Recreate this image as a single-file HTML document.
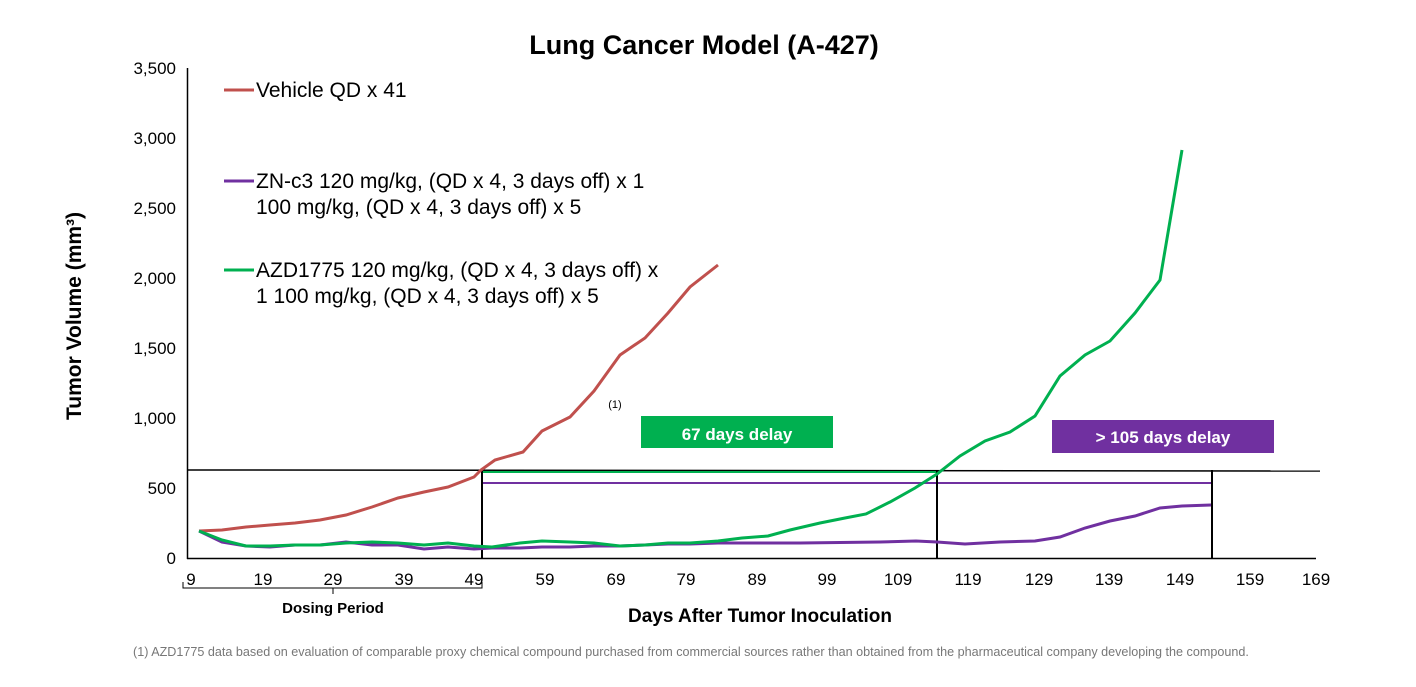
<!DOCTYPE html>
<html><head><meta charset="utf-8"><style>
body{margin:0;background:#fff;width:1416px;height:682px;overflow:hidden}
svg{font-family:"Liberation Sans",Arial,sans-serif}
</style></head><body>
<svg width="1416" height="682" viewBox="0 0 1416 682">
<text x="704" y="54" font-size="27" font-weight="bold" text-anchor="middle">Lung Cancer Model (A-427)</text>
<g font-size="17" text-anchor="end">
<text x="176" y="564">0</text><text x="176" y="494">500</text><text x="176" y="424">1,000</text>
<text x="176" y="354">1,500</text><text x="176" y="284">2,000</text><text x="176" y="214">2,500</text>
<text x="176" y="144">3,000</text><text x="176" y="74">3,500</text>
</g>
<text transform="translate(81,316) rotate(-90)" font-size="21" font-weight="bold" text-anchor="middle">Tumor Volume (mm³)</text>
<line x1="187.5" y1="68" x2="187.5" y2="559" stroke="#000" stroke-width="1.5"/>
<line x1="187" y1="558.5" x2="1316" y2="558.5" stroke="#000" stroke-width="1.5"/>
<g font-size="17" text-anchor="middle">
<text x="191" y="585">9</text><text x="263" y="585">19</text><text x="333" y="585">29</text><text x="404" y="585">39</text>
<text x="474" y="585">49</text><text x="545" y="585">59</text><text x="616" y="585">69</text><text x="686" y="585">79</text>
<text x="757" y="585">89</text><text x="827" y="585">99</text><text x="898" y="585">109</text><text x="968" y="585">119</text>
<text x="1039" y="585">129</text><text x="1109" y="585">139</text><text x="1180" y="585">149</text><text x="1250" y="585">159</text><text x="1316" y="585">169</text>
</g>
<path d="M183,582 v6 H482 v-6 M333,588 v6" fill="none" stroke="#000" stroke-width="1"/>
<text x="333" y="613" font-size="15" font-weight="bold" text-anchor="middle">Dosing Period</text>
<text x="760" y="622" font-size="19" font-weight="bold" text-anchor="middle">Days After Tumor Inoculation</text>
<text x="133" y="656" font-size="12.6" fill="#777">(1)    AZD1775 data based on evaluation of comparable proxy chemical compound purchased from commercial sources rather than obtained from the pharmaceutical company developing the compound.</text>
<line x1="187" y1="470" x2="1320" y2="471" stroke="#000" stroke-width="1.5"/>
<line x1="482" y1="472" x2="937" y2="472" stroke="#00b050" stroke-width="2"/>
<line x1="482" y1="483" x2="1211" y2="483" stroke="#7030a0" stroke-width="2"/>
<line x1="482" y1="470" x2="482" y2="559" stroke="#000" stroke-width="2"/>
<line x1="937" y1="470" x2="937" y2="559" stroke="#000" stroke-width="2"/>
<line x1="1212" y1="470" x2="1212" y2="559" stroke="#000" stroke-width="2"/>
<polyline fill="none" stroke="#c0504d" stroke-width="3" points="199,531 222,530 246,527 270,525 295,523 320,520 346,515 372,507 398,498 424,492 448,487 474,477 481,470 495,460 523,452 542,431 570,417 594,391 620,355 645,338 668,313 690,287 718,265"/>
<polyline fill="none" stroke="#7030a0" stroke-width="3" points="199,531 222,542 246,546 270,547 295,545 320,545 346,542 372,545 398,545 424,549 448,547 474,549 492,548 520,548 542,547 570,547 594,546 620,546 645,545 668,544 690,544 718,543 800,543 880,542 916,541 937,542 965,544 1000,542 1035,541 1060,537 1085,528 1110,521 1135,516 1160,508 1182,506 1211,505"/>
<polyline fill="none" stroke="#00b050" stroke-width="3" points="199,531 222,540 246,546 270,546 295,545 320,545 346,543 372,542 398,543 424,545 448,543 474,546 492,547 520,543 542,541 570,542 594,543 620,546 645,545 668,543 690,543 718,541 742,538 768,536 790,530 820,523 845,518 866,514 890,502 915,488 937,474 960,456 985,441 1010,432 1035,416 1060,376 1085,355 1110,341 1135,313 1160,280 1182,150"/>
<rect x="641" y="416" width="192" height="32" fill="#00b050"/>
<text x="737" y="440" font-size="17" font-weight="bold" fill="#fff" text-anchor="middle">67 days delay</text>
<rect x="1052" y="420" width="222" height="33" fill="#7030a0"/>
<text x="1163" y="443" font-size="17" font-weight="bold" fill="#fff" text-anchor="middle">&gt; 105 days delay</text>
<text x="615" y="408" font-size="11" text-anchor="middle">(1)</text>
<g font-size="21">
<line x1="224" y1="90" x2="254" y2="90" stroke="#c0504d" stroke-width="3"/>
<text x="256" y="97">Vehicle QD x 41</text>
<line x1="224" y1="181" x2="254" y2="181" stroke="#7030a0" stroke-width="3"/>
<text x="256" y="188">ZN-c3 120 mg/kg, (QD x 4, 3 days off) x 1</text>
<text x="256" y="214">100 mg/kg, (QD x 4, 3 days off) x 5</text>
<line x1="224" y1="270" x2="254" y2="270" stroke="#00b050" stroke-width="3"/>
<text x="256" y="277">AZD1775 120 mg/kg, (QD x 4, 3 days off) x</text>
<text x="256" y="303">1 100 mg/kg, (QD x 4, 3 days off) x 5</text>
</g>
</svg>
</body></html>
